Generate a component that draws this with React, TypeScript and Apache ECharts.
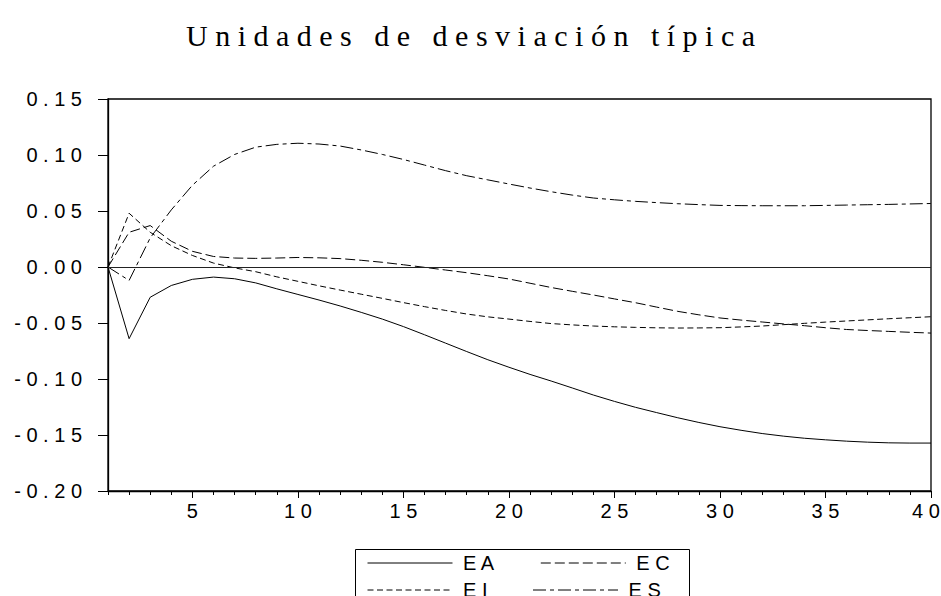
import React, { useEffect, useRef } from "react";
import * as echarts from "echarts";

const TITLE = "Unidades de desviación típica";

const periods = [
  1, 2, 3, 4, 5, 6, 7, 8, 9, 10, 11, 12, 13, 14, 15, 16, 17, 18, 19, 20,
  21, 22, 23, 24, 25, 26, 27, 28, 29, 30, 31, 32, 33, 34, 35, 36, 37, 38, 39, 40,
];

const xMajorTicks = [5, 10, 15, 20, 25, 30, 35, 40];

const EA = [
  0, -0.064, -0.027, -0.0165, -0.011, -0.009, -0.0105, -0.0142, -0.0195, -0.0245,
  -0.0295, -0.0348, -0.0405, -0.0465, -0.0532, -0.0605, -0.068, -0.0755, -0.0828, -0.0895,
  -0.0959, -0.1018, -0.108, -0.1143, -0.12, -0.1253, -0.13, -0.1346, -0.1388, -0.1426,
  -0.1458, -0.1487, -0.151, -0.1529, -0.1543, -0.1555, -0.1564, -0.157, -0.1572, -0.1572,
];

const EC = [
  0, 0.031, 0.037, 0.023, 0.014, 0.0094, 0.008, 0.0077, 0.008, 0.0085,
  0.0082, 0.0075, 0.006, 0.0042, 0.002, -0.0003, -0.0027, -0.0051, -0.0078, -0.0107,
  -0.0145, -0.0183, -0.0217, -0.025, -0.0285, -0.0319, -0.0358, -0.0396, -0.0427, -0.0455,
  -0.0474, -0.0491, -0.0508, -0.0524, -0.0542, -0.0558, -0.0567, -0.0575, -0.0583, -0.059,
];

const EI = [
  0, 0.048, 0.031, 0.019, 0.0103, 0.0035, -0.0008, -0.0042, -0.0088, -0.0128,
  -0.0168, -0.0206, -0.0243, -0.028, -0.0318, -0.0354, -0.0388, -0.042, -0.0445, -0.0465,
  -0.0486, -0.0505, -0.0517, -0.0527, -0.0534, -0.0539, -0.0543, -0.0545, -0.0544, -0.0542,
  -0.0535, -0.0527, -0.0515, -0.0503, -0.0492, -0.0482, -0.0472, -0.0462, -0.0453, -0.0444,
];

const ES = [
  0, -0.012, 0.026, 0.051, 0.073, 0.09, 0.1005, 0.107, 0.1095, 0.1105,
  0.1098, 0.108, 0.1045, 0.1005, 0.096, 0.091, 0.086, 0.0815, 0.0778, 0.0741,
  0.0705, 0.0672, 0.0642, 0.0616, 0.06, 0.0586, 0.0575, 0.0565, 0.0557, 0.055,
  0.0548, 0.0547, 0.0547, 0.0547, 0.055, 0.0553, 0.0556, 0.0559, 0.0563, 0.0567,
];

const seriesNames = ["EA", "EC", "EI", "ES"];
const seriesValues = [EA, EC, EI, ES];
const dashTypes: any[] = ["solid", [10, 4], [6, 3.5], [13, 4, 4, 4]];

const spaced = (s: string) => s.split("").join(" ");
const spacedTitle = (s: string) =>
  s
    .split(" ")
    .map((w) => spaced(w))
    .join("   ");

const FONT = "'Liberation Sans', Arial, sans-serif";

export default function App() {
  const ref = useRef<HTMLDivElement>(null);

  useEffect(() => {
    if (!ref.current) return;
    const chart = echarts.init(ref.current, null, { renderer: "svg" });

    const series = seriesNames.map((name, si) => ({
      name,
      type: "line",
      xAxisIndex: 0,
      yAxisIndex: 0,
      data: periods.map((p, i) => [p, seriesValues[si][i]]),
      showSymbol: false,
      symbol: "none",
      smooth: false,
      lineStyle: { color: "#000", width: 1, type: dashTypes[si] },
      itemStyle: { color: "#000" },
      z: 3,
      ...(si === 0
        ? {
            markLine: {
              silent: true,
              symbol: ["none", "none"],
              label: { show: false },
              lineStyle: { color: "#222", width: 1, type: "solid" },
              data: [{ yAxis: 0 }],
              animation: false,
            },
          }
        : {}),
    }));

    const legendText = {
      fontFamily: FONT,
      fontSize: 20,
      color: "#000",
    };
    const hiddenSymbol = {
      color: "rgba(0,0,0,0)",
      borderColor: "rgba(0,0,0,0)",
      borderWidth: 0,
      opacity: 0,
    };
    const legendItem = (si: number) => ({
      name: seriesNames[si],
      lineStyle: { type: dashTypes[si], color: "#000", width: 1, opacity: 1 },
      itemStyle: hiddenSymbol,
    });
    const legendBase = {
      left: 367,
      padding: 0,
      itemWidth: 85,
      itemHeight: 14,
      itemGap: 45,
      formatter: (n: string) => " " + spaced(n),
      textStyle: legendText,
      selectedMode: false,
      itemStyle: hiddenSymbol,
    };

    const option: any = {
      animation: false,
      backgroundColor: "#fff",
      title: {
        text: spacedTitle(TITLE),
        left: "center",
        top: 15,
        textStyle: {
          fontFamily: "'Liberation Serif', 'Times New Roman', serif",
          fontSize: 30,
          fontWeight: "normal",
          color: "#000",
        },
      },
      grid: {
        left: 108,
        top: 99,
        right: 10,
        bottom: 105,
        show: true,
        borderColor: "#000",
        borderWidth: 1.3,
        backgroundColor: "transparent",
        containLabel: false,
        outerBoundsMode: "none",
      },
      legend: [
        { ...legendBase, top: 553, data: [legendItem(0), legendItem(1)] },
        { ...legendBase, top: 580, data: [legendItem(2), legendItem(3)] },
      ],
      graphic: [
        {
          type: "rect",
          left: 353,
          top: 547,
          shape: { x: 0, y: 0, width: 334, height: 70 },
          style: { fill: "none", stroke: "#000", lineWidth: 1 },
          silent: true,
          z: 10,
        },
      ],
      xAxis: [
        {
          type: "value",
          min: 1,
          max: 40,
          interval: 1,
          position: "bottom",
          axisLine: { show: true, onZero: false, lineStyle: { color: "#000", width: 1.3 } },
          axisTick: { show: true, inside: false, length: 4, lineStyle: { color: "#000", width: 1 } },
          axisLabel: { show: false },
          splitLine: { show: false },
        },
        {
          type: "value",
          min: 1,
          max: 40,
          position: "bottom",
          axisLine: { show: false, onZero: false },
          axisTick: {
            show: true,
            inside: false,
            length: 7,
            customValues: xMajorTicks,
            lineStyle: { color: "#000", width: 1 },
          },
          axisLabel: {
            show: true,
            customValues: xMajorTicks,
            margin: 10,
            fontFamily: FONT,
            fontSize: 20,
            color: "#000",
            formatter: (v: number) => {
              const t = spaced(String(Math.round(v)));
              return Math.round(v) === 40 ? "{r|" + t + "}" : t;
            },
            rich: {
              r: {
                fontFamily: FONT,
                fontSize: 20,
                color: "#000",
                padding: [0, 10, 0, 0],
              },
            },
          },
          splitLine: { show: false },
        },
      ],
      yAxis: {
        type: "value",
        min: -0.2,
        max: 0.15,
        interval: 0.05,
        axisLine: { show: true, onZero: false, lineStyle: { color: "#000", width: 1.3 } },
        axisTick: { show: true, inside: false, length: 10, lineStyle: { color: "#000", width: 1 } },
        axisLabel: {
          margin: 26,
          fontFamily: FONT,
          fontSize: 20,
          color: "#000",
          formatter: (v: number) => {
            const val = Math.abs(v) < 1e-9 ? 0 : v;
            return spaced(val.toFixed(2));
          },
        },
        splitLine: { show: false },
      },
      series,
    };

    chart.setOption(option);
    return () => {
      chart.dispose();
    };
  }, []);

  return (
    <div
      ref={ref}
      style={{ position: "absolute", left: 0, top: 0, width: 941, height: 596 }}
    />
  );
}
